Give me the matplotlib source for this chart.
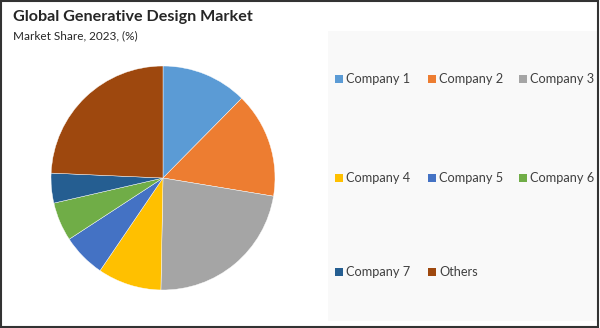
import numpy as np
import matplotlib
matplotlib.use('Agg')
import matplotlib.pyplot as plt
from matplotlib.patches import Rectangle

labels = ['Company 1', 'Company 2', 'Company 3', 'Company 4',
          'Company 5', 'Company 6', 'Company 7', 'Others']
shares = [12.4, 15.2, 22.7, 9.2, 6.3, 5.6, 4.3, 24.3]
colors = ['#5b9bd5', '#ed7d31', '#a5a5a5', '#ffc000',
          '#4472c4', '#70ad47', '#255e91', '#9e480e']

title = 'Global Generative Design Market'
subtitle = 'Market Share, 2023, (%)'

W, H = 600, 328
fig = plt.figure(figsize=(W / 100, H / 100), dpi=100)
fig.patch.set_facecolor('white')
plt.rcParams['font.family'] = ['Lato', 'DejaVu Sans']

# right legend panel
fig.patches.append(Rectangle((328 / W, 1 - 321 / H), 270 / W, 290 / H,
                             transform=fig.transFigure, facecolor='#f9f9f9',
                             edgecolor='none', zorder=0))

# pie
cx, cy, r = 163, 178, 112
ax = fig.add_axes([(cx - r) / W, 1 - (cy + r) / H, 2 * r / W, 2 * r / H])
ax.pie(shares, colors=colors, startangle=90, counterclock=False,
       radius=1, wedgeprops=dict(edgecolor='white', linewidth=0.3))
ax.set_xlim(-1, 1)
ax.set_ylim(-1, 1)
ax.set_aspect('equal')
ax.axis('off')

# titles
fig.text(13 / W, 1 - 21.5 / H, title, fontsize=11.6, fontweight='bold',
         color='#262626', va='baseline', ha='left')
fig.text(13 / W, 1 - 39.5 / H, subtitle, fontsize=8.5, color='#262626',
         va='baseline', ha='left')

# legend, 3 per row
col_x = [335, 428, 519]
row_y = [79, 178, 272]
sq = 8
for i, (lab, c) in enumerate(zip(labels, colors)):
    x = col_x[i % 3]
    y = row_y[i // 3]
    fig.patches.append(Rectangle((x / W, 1 - (y + sq / 2) / H), sq / W, sq / H,
                                 transform=fig.transFigure, facecolor=c,
                                 edgecolor='none'))
    fig.text((x + sq + 3) / W, 1 - y / H, lab, fontsize=9.2, color='#404040',
             va='center', ha='left')

# outer frame
fig.patches.append(Rectangle((0.001, 0.002), 0.996, 0.995, transform=fig.transFigure,
                             facecolor='none', edgecolor='#333333', linewidth=1.5))

fig.savefig('out.png', dpi=100)
